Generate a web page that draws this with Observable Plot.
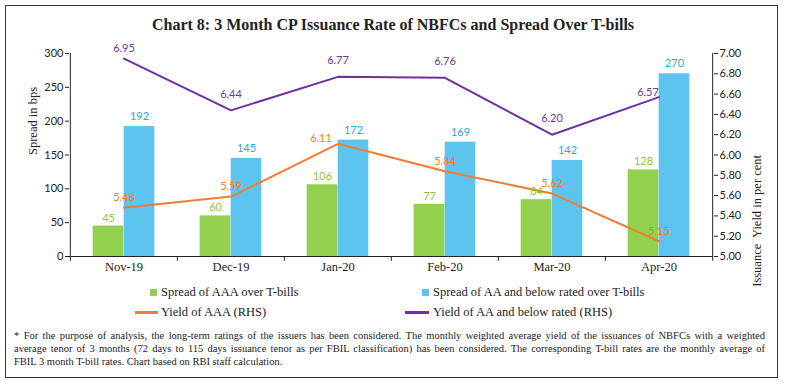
<!DOCTYPE html>
<html><head><meta charset="utf-8">
<script src="https://cdn.jsdelivr.net/npm/d3@7"></script>
<script src="https://cdn.jsdelivr.net/npm/@observablehq/plot@0.6"></script>
<style>
body{margin:0;background:#fff;width:786px;height:385px;position:relative;overflow:hidden;font-family:"Liberation Serif",serif;color:#222;}
#frame{position:absolute;left:5px;top:5px;width:771px;height:371px;border:1.5px solid #333;}
#title{position:absolute;left:0;width:786px;top:16px;text-align:center;font-size:16px;font-weight:bold;color:#222;}
#chart{position:absolute;left:0;top:40px;}
.leg{position:absolute;font-size:12.5px;line-height:14px;white-space:nowrap;}
.sw{position:absolute;width:7px;height:7px;}
.ln{position:absolute;height:2.5px;}
#note{position:absolute;left:14px;top:329px;width:751px;font-size:10.5px;line-height:13px;}
#note div{text-align:justify;text-align-last:justify;white-space:nowrap;}
#note div.last{text-align:left;text-align-last:left;}
</style></head>
<body>
<div id="frame"></div>
<div id="title">Chart 8: 3 Month CP Issuance Rate of NBFCs and Spread Over T-bills</div>
<div id="chart"></div>
<div class="sw" style="left:150px;top:289px;background:#92D050"></div>
<div class="leg" style="left:161px;top:285px">Spread of AAA over T-bills</div>
<div class="sw" style="left:422px;top:289px;background:#5DC3EF"></div>
<div class="leg" style="left:433px;top:285px">Spread of AA and below rated over T-bills</div>
<div class="ln" style="left:135px;top:311px;width:23px;background:#F07D32"></div>
<div class="leg" style="left:161px;top:305px">Yield of AAA (RHS)</div>
<div class="ln" style="left:405px;top:311px;width:24px;background:#7030A0"></div>
<div class="leg" style="left:433px;top:305px">Yield of AA and below rated (RHS)</div>
<div id="note">
<div>* For the purpose of analysis, the long-term ratings of the issuers has been considered. The monthly weighted average yield of the issuances of NBFCs with a weighted</div>
<div>average tenor of 3 months (72 days to 115 days issuance tenor as per FBIL classification) has been considered. The corresponding T-bill rates are the monthly average of</div>
<div class="last">FBIL 3 month T-bill rates. Chart based on RBI staff calculation.</div>
</div>
<script>
const months = ["Nov-19","Dec-19","Jan-20","Feb-20","Mar-20","Apr-20"];
const spreadAAA = [45, 60, 106, 77, 84, 128];
const spreadAA = [192, 145, 172, 169, 142, 270];
const yieldAAA = [5.48, 5.59, 6.11, 5.84, 5.62, 5.15];
const yieldAA = [6.95, 6.44, 6.77, 6.76, 6.20, 6.57];
const leftTicks = [0, 50, 100, 150, 200, 250, 300];
const rightTicks = [5.00, 5.20, 5.40, 5.60, 5.80, 6.00, 6.20, 6.40, 6.60, 6.80, 7.00];
const Y_MIN = 5, Y_MAX = 7, L_MAX = 300;
const toLeft = v => (v - Y_MIN) / (Y_MAX - Y_MIN) * L_MAX;

const rows = months.map((m, i) => ({m, aaa: spreadAAA[i], aa: spreadAA[i], yaaa: toLeft(yieldAAA[i]), yaa: toLeft(yieldAA[i]), ya: yieldAAA[i], yb: yieldAA[i]}));

const W = 786, H = 240, ML = 69, MR = 73, MT = 13, MB = 24;
const bw = (W - ML - MR) / months.length;
const barW = 31;
const cGreen = "#92D050", cBlue = "#5DC3EF", cOrange = "#F07D32", cPurple = "#7030A0";
const num = {fontFamily: "Lato", fontSize: 11};

const chart = Plot.plot({
  width: W, height: H,
  marginLeft: ML, marginRight: MR, marginTop: MT, marginBottom: MB,
  style: {fontFamily: "Liberation Serif", fontSize: "12px", color: "#222", background: "transparent", overflow: "visible"},
  x: {type: "band", domain: months, padding: 0},
  y: {domain: [0, L_MAX], label: null},
  marks: [
    Plot.barY(rows, {x: "m", y: "aaa", fill: cGreen, insetLeft: bw/2 - barW, insetRight: bw/2}),
    Plot.barY(rows, {x: "m", y: "aa", fill: cBlue, insetLeft: bw/2, insetRight: bw/2 - barW}),
    Plot.ruleY([0], {stroke: "#222", strokeWidth: 1}),
    Plot.ruleX([months[0]], {y1: 0, y2: L_MAX, dx: -bw/2, stroke: "#222"}),
    Plot.ruleX([months[months.length-1]], {y1: 0, y2: L_MAX, dx: bw/2, stroke: "#222"}),
    Plot.ruleX(months, {y1: 0, y2: -7, dx: -bw/2, stroke: "#222"}),
    Plot.ruleX([months[months.length-1]], {y1: 0, y2: -7, dx: bw/2, stroke: "#222"}),
    Plot.line(rows, {x: "m", y: "yaaa", stroke: cOrange, strokeWidth: 2}),
    Plot.line(rows, {x: "m", y: "yaa", stroke: cPurple, strokeWidth: 2}),
    Plot.text(rows, {x: "m", y: "aaa", text: d => String(d.aaa), dx: -barW/2, dy: -8, fill: "#8CC63F", ...num}),
    Plot.text(rows, {x: "m", y: "aa", text: d => String(d.aa), dx: barW/2, dy: -10, fill: "#2AA9E0", ...num}),
    Plot.text(rows.filter(d => d.m !== "Jan-20"), {x: "m", y: "yaaa", text: d => d.ya.toFixed(2), dy: -10, fill: "#F07D32", ...num}),
    Plot.text(rows.filter(d => d.m === "Jan-20"), {x: "m", y: "yaaa", text: d => d.ya.toFixed(2), dx: -17, dy: -5, fill: "#F07D32", ...num}),
    Plot.text(rows.filter(d => d.m === "Nov-19"), {x: "m", y: "yaa", text: d => d.yb.toFixed(2), dy: -10, fill: "#6B3A9C", ...num}),
    Plot.text(rows.filter(d => d.m !== "Nov-19" && d.m !== "Apr-20"), {x: "m", y: "yaa", text: d => d.yb.toFixed(2), dy: -16, fill: "#6B3A9C", ...num}),
    Plot.text(rows.filter(d => d.m === "Apr-20"), {x: "m", y: "yaa", text: d => d.yb.toFixed(2), dx: -11, dy: -5, fill: "#6B3A9C", ...num}),
    Plot.axisX({tickSize: 0, tickPadding: 6, fontFamily: "Liberation Serif", fontSize: 12.5, label: null}),
    Plot.axisY(leftTicks, {anchor: "left", tickSize: 4, tickPadding: 2, label: null, ...num}),
    Plot.axisY(rightTicks.map(toLeft), {anchor: "right", tickSize: 4, tickPadding: 2, label: null, tickFormat: d => (d / L_MAX * (Y_MAX - Y_MIN) + Y_MIN).toFixed(2), ...num}),
    Plot.text(["Spread in bps"], {frameAnchor: "left", dx: -37, rotate: -90, fontFamily: "Liberation Serif", fontSize: 12.5, fill: "#222"}),
    Plot.text(["Issuance  Yield in per cent"], {frameAnchor: "right", dx: 43, rotate: -90, fontFamily: "Liberation Serif", fontSize: 12.5, fill: "#222"})
  ]
});
document.getElementById("chart").appendChild(chart);
</script>
</body></html>
